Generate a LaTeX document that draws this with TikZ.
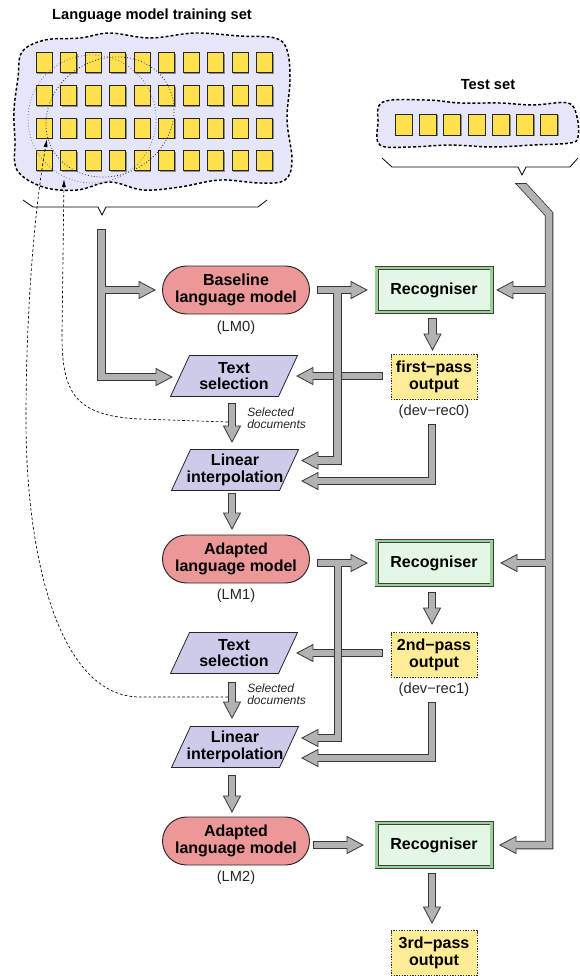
\documentclass[tikz,border=0pt]{standalone}
\usepackage{fontspec}
\setmainfont{Liberation Sans}
\usetikzlibrary{arrows.meta,calc}
\definecolor{blobfill}{RGB}{230,230,250}
\definecolor{sqfill}{RGB}{255,225,80}
\definecolor{pillred}{RGB}{236,152,152}
\definecolor{parafill}{RGB}{204,204,234}
\definecolor{recfill}{RGB}{228,247,228}
\definecolor{recband}{RGB}{150,212,150}
\definecolor{outfill}{RGB}{255,236,150}
\definecolor{fatfill}{RGB}{178,178,178}
\definecolor{fatline}{RGB}{55,55,55}
\tikzset{
  lbl/.style={font=\fontsize{12}{12.5}\selectfont\bfseries, align=center, inner sep=0pt},
  pill/.style={lbl, draw=black!85, line width=0.7pt, fill=pillred, rounded corners=18pt,
     minimum width=110.25pt, minimum height=36pt},
  recog/.style={lbl, draw=black!75, line width=0.6pt, double=recband, double distance=1.8pt,
     fill=recfill, minimum width=86.25pt, minimum height=33pt},
  outbox/.style={lbl, draw=black!80, line width=0.6pt, dash pattern=on 1pt off 1pt,
     fill=outfill, minimum width=64.5pt, minimum height=33.75pt},
  parashape/.style={draw=black!85, line width=0.6pt, fill=parafill},
  sublbl/.style={font=\fontsize{11}{12}\selectfont, text=black!85, inner sep=0pt},
  seldoc/.style={font=\fontsize{9}{8.6}\selectfont\itshape, text=black!85, align=left, inner sep=0pt, anchor=west},
  title/.style={font=\fontsize{11}{13}\selectfont\bfseries, inner sep=0pt},
  blob/.style={fill=blobfill, draw=black, line width=1.1pt, dash pattern=on 2.2pt off 1.6pt},
  sq/.style={fill=sqfill, draw=black!85, line width=0.6pt},
  sqshadow/.style={fill=black!45},
  brace/.style={draw=black, line width=0.6pt},
  dcurve/.style={draw=black, line width=0.5pt, dash pattern=on 2pt off 1.6pt, -{Latex[length=6pt,width=3pt]}},
  dotc/.style={draw=black!55, line width=0.6pt, dash pattern=on 0.6pt off 1.6pt},
  dotd/.style={draw=black!85, line width=0.6pt, dash pattern=on 0.6pt off 1.6pt},
  fatout/.style={draw=fatline, line width=6.375pt, line join=miter, line cap=butt},
  fatin/.style={draw=fatfill, line width=5.175pt, line join=miter, line cap=butt,
     shorten <=0.6pt, shorten >=-0.75pt},
  fathead/.style={fill=fatfill, draw=fatline, line width=0.6pt, line join=miter}
}
\newcommand\fatpath[2]{\draw[#1] #2;}
\newcommand\fhead[3]{\filldraw[fathead, shift={(#1,#2)}, rotate=#3] (0,0) -- (-16,8.5) -- (-16,-8.5) -- cycle;}
\newcommand\paranode[4]{%
  \filldraw[parashape] (#2-63.5,#3+20.5) -- (#2+44.5,#3+20.5) -- (#2+63.5,#3-20.5) -- (#2-44.5,#3-20.5) -- cycle;
  \node[lbl] (#1) at (#2,#3) {#4};}
\begin{document}
\begin{tikzpicture}[x=0.75pt,y=-0.75pt]
\useasboundingbox (0,0) rectangle (580,976);

% ---------- training set ----------
\node[title] (trtitle) at (152,16) {Language model training set};
\filldraw[blob] plot[smooth cycle, tension=0.6] coordinates {
 (22,52) (45,40) (80,38) (110,33) (150,38) (195,33) (240,36) (275,38) (287,50)
 (290,80) (287,120) (292,160) (285,180) (260,183) (220,180) (180,187) (143,190)
 (110,182) (77,190) (43,187) (17,170) (15,140) (14,110) (18,78)};
\foreach \i in {0,...,9}{
  \foreach \j in {0,...,3}{
    \pgfmathsetmacro\xx{36+24.5*\i}
    \pgfmathsetmacro\yy{52.7+32.7*\j}
    \fill[sqshadow] (\xx+1.3,\yy+1.3) rectangle ++(16,20);
    \filldraw[sq] (\xx,\yy) rectangle ++(16,20);
  }}
\draw[dotc] (92,119) circle [radius=64];
\draw[dotd, rotate around={30:(110,117)}] (110,117) ellipse [x radius=66, y radius=58];
\draw[brace] (23,200) -- (33,207) -- (98,207) -- (102,215) -- (106,207) -- (258,207) -- (267,200);

% ---------- test set ----------
\node[title] (tstitle) at (488,85) {Test set};
\filldraw[blob] plot[smooth cycle, tension=0.6] coordinates {
 (383,102) (427,100) (460,103) (500,103) (533,105) (568,103) (577,117) (578,137)
 (570,143) (533,145) (493,147) (450,145) (410,147) (380,145) (378,123)};
\foreach \i in {0,...,6}{
    \pgfmathsetmacro\xx{395+24.3*\i}
    \fill[sqshadow] (\xx+1.3,115.3) rectangle ++(17,21);
    \filldraw[sq] (\xx,114) rectangle ++(17,21);
  }
\draw[brace] (382,158) -- (392,167) -- (518,167) -- (522,175) -- (526,167) -- (570,167) -- (578,158);

% ---------- nodes ----------
\node[pill] (lm0) at (236,290) {Baseline\\language model};
\node[sublbl] (lm0l) at (236,328) {(LM0)};
\node[pill] (lm1) at (236,559) {Adapted\\language model};
\node[sublbl] (lm1l) at (236,596) {(LM1)};
\node[pill] (lm2) at (236,841) {Adapted\\language model};
\node[sublbl] (lm2l) at (236,878) {(LM2)};

\node[recog] (r1) at (434,290) {Recogniser};
\node[recog] (r2) at (434,563) {Recogniser};
\node[recog] (r3) at (434,845) {Recogniser};

\node[outbox] (o1) at (434,377) {first−pass\\output};
\node[sublbl] (o1l) at (434,412) {(dev−rec0)};
\node[outbox] (o2) at (434,655) {2nd−pass\\output};
\node[sublbl] (o2l) at (434,690) {(dev−rec1)};
\node[outbox] (o3) at (434,953) {3rd−pass\\output};

\paranode{ts1}{234}{376}{Text\\selection}
\paranode{li1}{235}{470}{Linear\\interpolation}
\paranode{ts2}{234}{653}{Text\\selection}
\paranode{li2}{235}{747}{Linear\\interpolation}

\node[seldoc] (sd1l) at (247,418) {Selected\\documents};
\node[seldoc] (sd2l) at (247,694) {Selected\\documents};

% ---------- dashed feedback curves ----------
\coordinate (sd1) at (228,422);
\coordinate (tr1) at (64,179);
\coordinate (sd2) at (228,697);
\coordinate (tr2) at (47,139);
\draw[dcurve] (sd1) -- (140,419) .. controls (74,416) and (62,392) .. (62,335) -- (tr1);
\draw[dcurve] (sd2) -- (140,697) .. controls (60,697) and (26,560) .. (26,420) .. controls (26,300) and (36,200) .. (tr2);

% ---------- fat arrows ----------
% training set -> LM0 and text selection 1
\fatpath{fatout}{(101.5,229) -- (101.5,377) -- (156,377)}
\fatpath{fatout}{(101.5,290) -- (139,290)}
\fhead{172}{377}{0}\fhead{155}{290}{0}
\fatpath{fatin}{(101.5,229) -- (101.5,377) -- (156,377)}
\fatpath{fatin}{(101.5,290) -- (139,290)}

% test set -> recognisers
\begin{scope}
\clip (0,183) rectangle (580,976);
\fatpath{fatout}{(516,178) -- (549,214) -- (549,845) -- (516,845)}
\fatpath{fatout}{(549,290) -- (513,290)}
\fatpath{fatout}{(549,563) -- (517,563)}
\fhead{500}{845}{180}\fhead{497}{290}{180}\fhead{501}{563}{180}
\fatpath{fatin}{(516,178) -- (549,214) -- (549,845) -- (516,845)}
\fatpath{fatin}{(549,290) -- (513,290)}
\fatpath{fatin}{(549,563) -- (517,563)}
\end{scope}
\draw[fatline, line width=0.6pt] (514.8,183) -- (526.4,183);

% first-pass -> text selection 1
\fatpath{fatout}{(383,376) -- (313,376)}
\fhead{297}{376}{180}
\fatpath{fatin}{(383,376) -- (313,376)}

% LM0 -> recogniser 1 and linear interpolation 1
\fatpath{fatout}{(317,290) -- (351,290)}
\fatpath{fatout}{(337.5,290) -- (337.5,460.5) -- (318,460.5)}
\fhead{367}{290}{0}\fhead{302}{460.5}{180}
\fatpath{fatin}{(317,290) -- (351,290)}
\fatpath{fatin}{(337.5,290) -- (337.5,460.5) -- (318,460.5)}

% dev-rec0 -> linear interpolation 1
\fatpath{fatout}{(432,424) -- (432,481) -- (318,481)}
\fhead{302}{481}{180}
\fatpath{fatin}{(432,424) -- (432,481) -- (318,481)}

% recogniser 1 -> first-pass
\fatpath{fatout}{(432.5,318) -- (432.5,334)}
\fhead{432.5}{350}{-90}
\fatpath{fatin}{(432.5,318) -- (432.5,334)}

% selected documents 1
\fatpath{fatout}{(232,403) -- (232,426)}
\fhead{232}{442}{-90}
\fatpath{fatin}{(232,403) -- (232,426)}

% linear interpolation 1 -> LM1
\fatpath{fatout}{(232,493) -- (232,513)}
\fhead{232}{529}{-90}
\fatpath{fatin}{(232,493) -- (232,513)}

% 2nd-pass -> text selection 2
\fatpath{fatout}{(383,653) -- (313,653)}
\fhead{297}{653}{180}
\fatpath{fatin}{(383,653) -- (313,653)}

% LM1 -> recogniser 2 and linear interpolation 2
\fatpath{fatout}{(317,563) -- (351,563)}
\fatpath{fatout}{(338,563) -- (338,738) -- (318,738)}
\fhead{367}{563}{0}\fhead{302}{738}{180}
\fatpath{fatin}{(317,563) -- (351,563)}
\fatpath{fatin}{(338,563) -- (338,738) -- (318,738)}

% recogniser 2 -> 2nd-pass
\fatpath{fatout}{(432,592) -- (432,608)}
\fhead{432}{624}{-90}
\fatpath{fatin}{(432,592) -- (432,608)}

% selected documents 2
\fatpath{fatout}{(232,682) -- (232,702)}
\fhead{232}{718}{-90}
\fatpath{fatin}{(232,682) -- (232,702)}

% dev-rec1 -> linear interpolation 2
\fatpath{fatout}{(432,702) -- (432,758) -- (318,758)}
\fhead{302}{758}{180}
\fatpath{fatin}{(432,702) -- (432,758) -- (318,758)}

% linear interpolation 2 -> LM2
\fatpath{fatout}{(232,775) -- (232,796)}
\fhead{232}{812}{-90}
\fatpath{fatin}{(232,775) -- (232,796)}

% LM2 -> recogniser 3
\fatpath{fatout}{(313,845) -- (347,845)}
\fhead{363}{845}{0}
\fatpath{fatin}{(313,845) -- (347,845)}

% recogniser 3 -> 3rd-pass
\fatpath{fatout}{(432,873) -- (432,907)}
\fhead{432}{923}{-90}
\fatpath{fatin}{(432,873) -- (432,907)}

\end{tikzpicture}
\end{document}
